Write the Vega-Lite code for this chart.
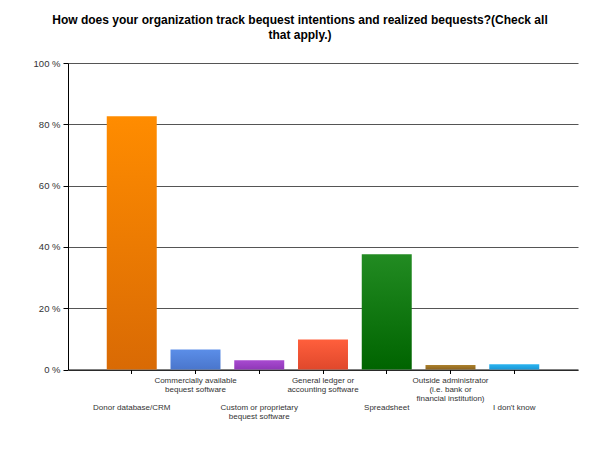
{
  "$schema": "https://vega.github.io/schema/vega-lite/v6.json",
  "width": 510,
  "height": 306.5,
  "autosize": "none",
  "padding": {"left": 68, "top": 63, "right": 22, "bottom": 80},
  "background": "white",
  "title": {
    "text": ["How does your organization track bequest intentions and realized bequests?(Check all", "that apply.)"],
    "font": "Liberation Sans",
    "fontSize": 12,
    "fontWeight": "bold",
    "color": "#000000",
    "anchor": "middle",
    "frame": "group",
    "dx": -23,
    "offset": 16,
    "lineHeight": 15
  },
  "data": {
    "values": [
      {"method": "Donor database/CRM", "percent": 82.6},
      {"method": "Commercially available bequest software", "percent": 6.5},
      {"method": "Custom or proprietary bequest software", "percent": 3.0},
      {"method": "General ledger or accounting software", "percent": 9.8},
      {"method": "Spreadsheet", "percent": 37.6},
      {"method": "Outside administrator (i.e. bank or financial institution)", "percent": 1.5},
      {"method": "I don't know", "percent": 1.7}
    ]
  },
  "mark": {"type": "bar"},
  "encoding": {
    "x": {
      "field": "method",
      "type": "nominal",
      "sort": null,
      "scale": {"paddingInner": 0.216, "paddingOuter": 0.608},
      "axis": {
        "title": null,
        "labelAngle": 0,
        "labelExpr": "{'Donor database/CRM': ['Donor database/CRM'], 'Commercially available bequest software': ['Commercially available', 'bequest software'], 'Custom or proprietary bequest software': ['Custom or proprietary', 'bequest software'], 'General ledger or accounting software': ['General ledger or', 'accounting software'], 'Spreadsheet': ['Spreadsheet'], 'Outside administrator (i.e. bank or financial institution)': ['Outside administrator', '(i.e. bank or', 'financial institution)'], 'I don\\'t know': ['I don\\'t know']}[datum.value]",
        "labelFont": "Liberation Sans",
        "labelFontSize": 8,
        "labelLineHeight": 9,
        "labelColor": "#333333",
        "labelOverlap": false,
        "labelBound": false,
        "labelLimit": 300,
        "labelPadding": {
          "condition": {"test": "indexof(['Donor database/CRM', 'Custom or proprietary bequest software', 'Spreadsheet', 'I don\\'t know'], datum.value) >= 0", "value": 30},
          "value": 3
        },
        "tickSize": 4,
        "tickColor": "#000000",
        "domainColor": "#000000",
        "grid": false
      }
    },
    "y": {
      "field": "percent",
      "type": "quantitative",
      "scale": {"domain": [0, 100]},
      "axis": {
        "title": null,
        "values": [0, 20, 40, 60, 80, 100],
        "labelExpr": "datum.value + ' %'",
        "labelFont": "Liberation Sans",
        "labelFontSize": 9.5,
        "labelColor": "#333333",
        "labelPadding": 3,
        "tickSize": 5,
        "tickColor": "#000000",
        "domainColor": "#000000",
        "grid": true,
        "gridColor": "#555555",
        "gridWidth": 1
      }
    },
    "fill": {
      "condition": [
        {"test": "datum.method === 'Donor database/CRM'", "value": {"gradient": "linear", "x1": 0, "y1": 0, "x2": 0, "y2": 1, "stops": [{"offset": 0, "color": "#ff8c00"}, {"offset": 1, "color": "#d96a04"}]}},
        {"test": "datum.method === 'Commercially available bequest software'", "value": {"gradient": "linear", "x1": 0, "y1": 0, "x2": 0, "y2": 1, "stops": [{"offset": 0, "color": "#5b8ee8"}, {"offset": 1, "color": "#4a76cc"}]}},
        {"test": "datum.method === 'Custom or proprietary bequest software'", "value": {"gradient": "linear", "x1": 0, "y1": 0, "x2": 0, "y2": 1, "stops": [{"offset": 0, "color": "#a84ad0"}, {"offset": 1, "color": "#9038b8"}]}},
        {"test": "datum.method === 'General ledger or accounting software'", "value": {"gradient": "linear", "x1": 0, "y1": 0, "x2": 0, "y2": 1, "stops": [{"offset": 0, "color": "#ff5f3c"}, {"offset": 1, "color": "#e0482c"}]}},
        {"test": "datum.method === 'Spreadsheet'", "value": {"gradient": "linear", "x1": 0, "y1": 0, "x2": 0, "y2": 1, "stops": [{"offset": 0, "color": "#228b22"}, {"offset": 1, "color": "#006400"}]}},
        {"test": "datum.method === 'Outside administrator (i.e. bank or financial institution)'", "value": {"gradient": "linear", "x1": 0, "y1": 0, "x2": 0, "y2": 1, "stops": [{"offset": 0, "color": "#ad822c"}, {"offset": 1, "color": "#8c6420"}]}},
        {"test": "datum.method === 'I don\\'t know'", "value": {"gradient": "linear", "x1": 0, "y1": 0, "x2": 0, "y2": 1, "stops": [{"offset": 0, "color": "#2ab4f0"}, {"offset": 1, "color": "#1a98d8"}]}}
      ],
      "value": "#888888"
    }
  },
  "config": {"view": {"stroke": null}}
}
